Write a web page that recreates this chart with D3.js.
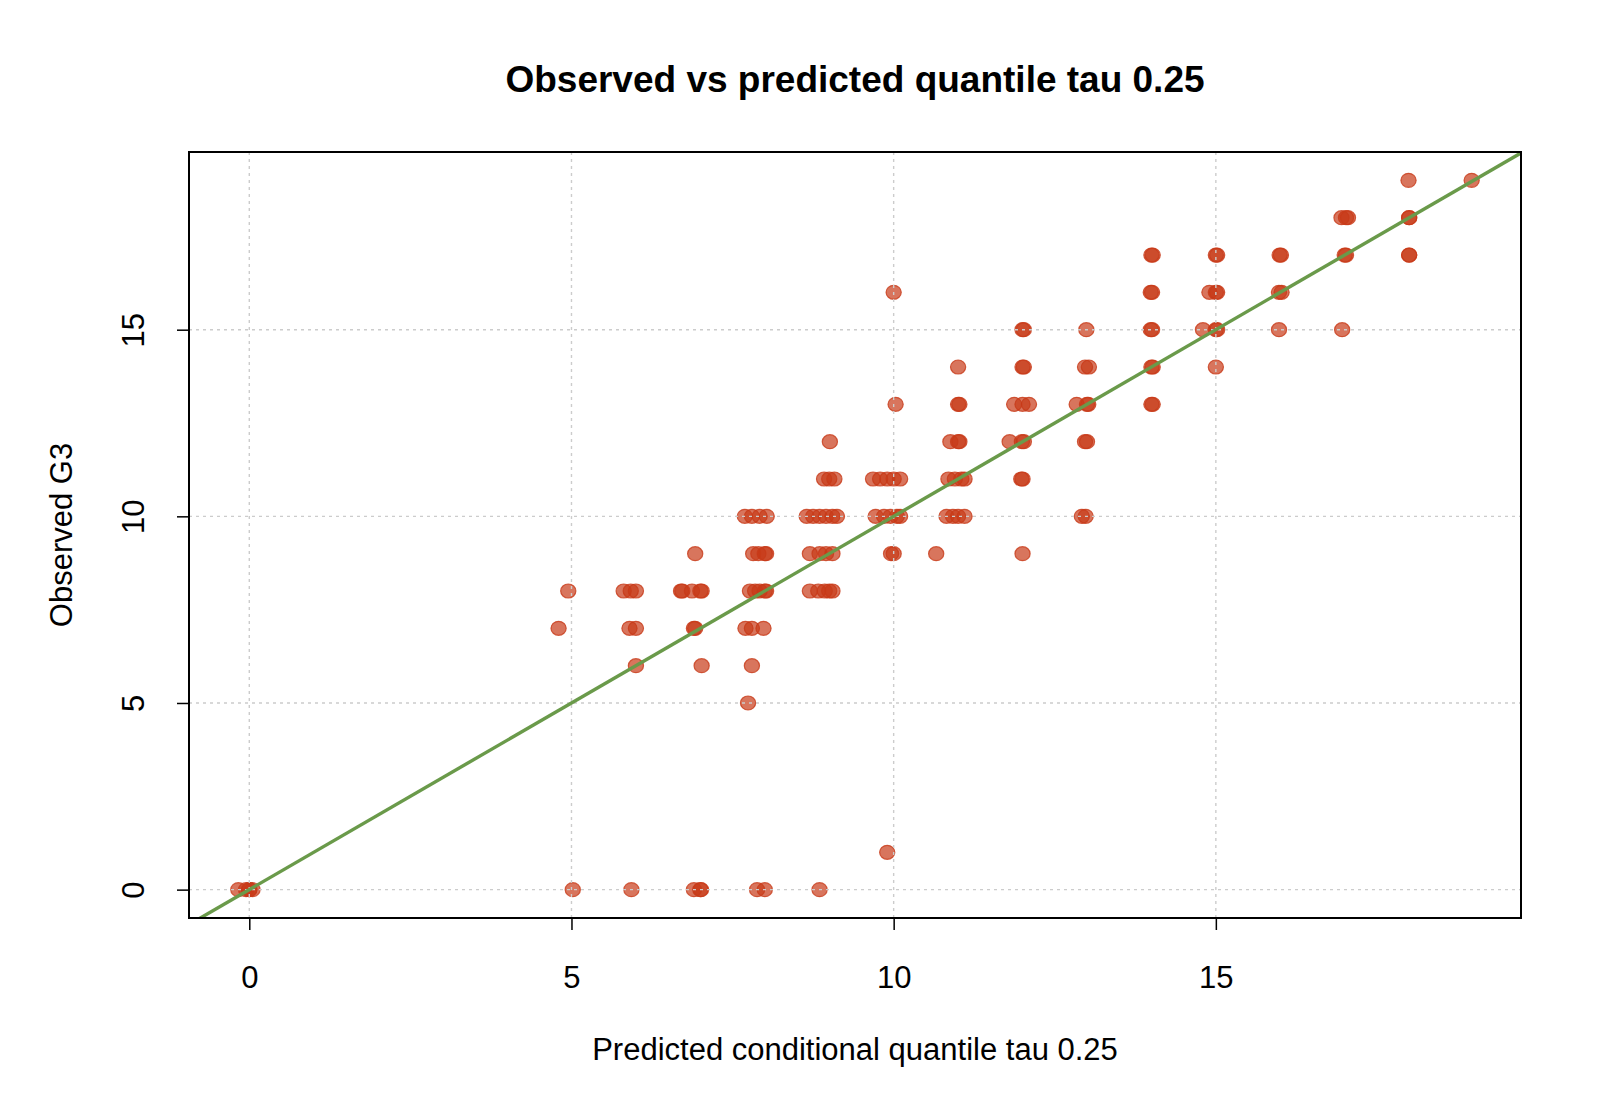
<!DOCTYPE html>
<html lang="en">
<head>
    <meta charset="UTF-8">
    <title>Observed vs predicted quantile tau 0.25</title>
    <script src="https://d3js.org/d3.v7.min.js"></script>
    <style>
        body { margin: 0; background: #fff; }
        text { font-family: "Liberation Sans", Arial, sans-serif; fill: #000; }
    </style>
</head>
<body>
    <script>
        // observed G3 and the predicted conditional quantile (tau 0.25)
        const observedG3 = [
            0, 0, 0, 0, 0, 0, 0, 0, 0, 0, 0, 0, 0,
            1,
            5,
            6, 6, 6,
            7, 7, 7, 7, 7, 7, 7, 7,
            8, 8, 8, 8, 8, 8, 8, 8, 8, 8, 8, 8, 8, 8, 8, 8, 8, 8, 8,
            9, 9, 9, 9, 9, 9, 9, 9, 9, 9, 9, 9, 9,
            10, 10, 10, 10, 10, 10, 10, 10, 10, 10, 10, 10, 10, 10, 10, 10, 10, 10, 10, 10, 10,
            11, 11, 11, 11, 11, 11, 11, 11, 11, 11, 11, 11, 11, 11,
            12, 12, 12, 12, 12, 12, 12, 12, 12,
            13, 13, 13, 13, 13, 13, 13, 13, 13, 13, 13,
            14, 14, 14, 14, 14, 14, 14, 14,
            15, 15, 15, 15, 15, 15, 15, 15, 15, 15,
            16, 16, 16, 16, 16, 16, 16, 16,
            17, 17, 17, 17, 17, 17, 17, 17, 17, 17,
            18, 18, 18, 18, 18,
            19, 19
        ];
        const predictedQ25 = [
            -0.17, -0.05, 0, 0, 0.05, 5.02, 5.93, 6.9, 7.0, 7.01, 7.88, 8.0, 8.85,
            9.9,
            7.74,
            6.0, 7.02, 7.8,
            4.8, 5.9, 6.0, 6.9, 6.92, 7.7, 7.8, 7.98,
            4.95, 5.81, 5.92, 6.0, 6.7, 6.72, 6.87, 7.0, 7.02, 7.77, 7.85, 7.92, 8.0, 8.02, 8.7, 8.83, 8.93, 9.0, 9.05,
            6.92, 7.82, 7.9, 8.0, 8.02, 8.7, 8.85, 8.95, 9.05, 9.96, 10.0, 10.66, 12.0,
            7.69, 7.8, 7.92, 8.03, 8.65, 8.75, 8.85, 8.95, 9.05, 9.12, 9.72, 9.85, 9.95, 10.05, 10.1, 10.82, 10.92, 11.0, 11.1, 12.92, 12.98,
            8.92, 9.0, 9.08, 9.68, 9.79, 9.9, 10.0, 10.1, 10.85, 10.95, 11.05, 11.1, 11.98, 12.0,
            9.01, 10.88, 11.0, 11.02, 11.8, 11.99, 12.02, 12.97, 13.0,
            10.03, 11.0, 11.02, 11.87, 12.0, 12.1, 12.84, 13.0, 13.02, 14.0, 14.02,
            11.0, 12.0, 12.02, 12.97, 13.03, 14.0, 14.02, 15.0,
            12.0, 12.02, 12.99, 13.99, 14.01, 14.8, 15.0, 15.02, 15.98, 16.96,
            10.0, 13.99, 14.01, 14.9, 15.0, 15.02, 15.98, 16.02,
            14.0, 14.02, 15.0, 15.02, 15.99, 16.01, 17.0, 17.02, 18.0, 18.0,
            16.95, 17.02, 17.05, 18.0, 18.0,
            17.99, 18.97
        ];
        const xTicks = [0, 5, 10, 15];
        const yTicks = [0, 5, 10, 15];

        const width = 1600, height = 1108;
        const margin = { top: 152, right: 79, bottom: 190, left: 189 };

        const points = predictedQ25.map((p, i) => ({ x: p, y: observedG3[i] }));

        // R style axis range: data range stretched by 4% on each side
        function rRange(vals) {
            const [lo, hi] = d3.extent(vals);
            const pad = (hi - lo) * 0.04;
            return [lo - pad, hi + pad];
        }

        const x = d3.scaleLinear().domain(rRange(predictedQ25)).range([margin.left, width - margin.right]);
        const y = d3.scaleLinear().domain(rRange(observedG3)).range([height - margin.bottom, margin.top]);

        const svg = d3.select('body').append('svg')
            .attr('width', width)
            .attr('height', height);

        svg.append('defs').append('clipPath').attr('id', 'plot-clip')
            .append('rect')
            .attr('x', margin.left).attr('y', margin.top)
            .attr('width', width - margin.left - margin.right)
            .attr('height', height - margin.top - margin.bottom);

        // points first (slightly wider than tall, as in the original bitmap)
        svg.append('g').attr('clip-path', 'url(#plot-clip)')
            .selectAll('ellipse')
            .data(points)
            .enter().append('ellipse')
            .attr('cx', d => x(d.x))
            .attr('cy', d => y(d.y))
            .attr('rx', 7.6)
            .attr('ry', 7)
            .attr('fill', 'rgba(200,58,24,0.7)')
            .attr('stroke', 'rgba(200,58,24,0.8)')
            .attr('stroke-width', 1.2);

        // dotted grid, drawn over the points like grid() after plot()
        const grid = svg.append('g').attr('stroke', '#cccccc').attr('stroke-width', 1.4).attr('stroke-dasharray', '3,4');
        grid.selectAll('.gx').data(xTicks).enter().append('line')
            .attr('x1', d => x(d)).attr('x2', d => x(d))
            .attr('y1', margin.top).attr('y2', height - margin.bottom);
        grid.selectAll('.gy').data(yTicks).enter().append('line')
            .attr('x1', margin.left).attr('x2', width - margin.right)
            .attr('y1', d => y(d)).attr('y2', d => y(d));

        // 45 degree reference line
        const [x0, x1] = x.domain();
        svg.append('line')
            .attr('clip-path', 'url(#plot-clip)')
            .attr('x1', x(x0 - 1)).attr('y1', y(x0 - 1))
            .attr('x2', x(x1 + 1)).attr('y2', y(x1 + 1))
            .attr('stroke', '#6a9a4a')
            .attr('stroke-width', 3.4);

        // axes
        const xAxis = svg.append('g')
            .attr('transform', `translate(0,${height - margin.bottom})`)
            .call(d3.axisBottom(x).tickValues(xTicks).tickSize(12).tickPadding(36).tickFormat(d3.format('d')));
        const yAxis = svg.append('g')
            .attr('transform', `translate(${margin.left},0)`)
            .call(d3.axisLeft(y).tickValues(yTicks).tickSize(12).tickFormat(d3.format('d')));

        [xAxis, yAxis].forEach(a => {
            a.select('.domain').remove();
            a.selectAll('line').attr('stroke', '#000').attr('stroke-width', 1.5);
            a.selectAll('text').attr('font-size', 31).attr('font-family', '"Liberation Sans", Arial, sans-serif').attr('fill', '#000');
        });
        yAxis.selectAll('text')
            .attr('transform', 'rotate(-90)')
            .attr('x', 0)
            .attr('y', -56)
            .attr('dy', '0.35em')
            .attr('text-anchor', 'middle');

        // box round the plot
        svg.append('rect')
            .attr('x', margin.left).attr('y', margin.top)
            .attr('width', width - margin.left - margin.right)
            .attr('height', height - margin.top - margin.bottom)
            .attr('fill', 'none')
            .attr('stroke', '#000')
            .attr('stroke-width', 2);

        // titles
        const cx = (margin.left + width - margin.right) / 2;
        const cy = (margin.top + height - margin.bottom) / 2;
        svg.append('text')
            .attr('x', cx).attr('y', 92)
            .attr('text-anchor', 'middle')
            .attr('font-size', 37).attr('font-weight', 'bold')
            .text('Observed vs predicted quantile tau 0.25');
        svg.append('text')
            .attr('x', cx).attr('y', 1060)
            .attr('text-anchor', 'middle')
            .attr('font-size', 31)
            .text('Predicted conditional quantile tau 0.25');
        svg.append('text')
            .attr('transform', `translate(61,${cy}) rotate(-90)`)
            .attr('dy', '0.35em')
            .attr('text-anchor', 'middle')
            .attr('font-size', 31)
            .text('Observed G3');
    </script>
</body>
</html>
